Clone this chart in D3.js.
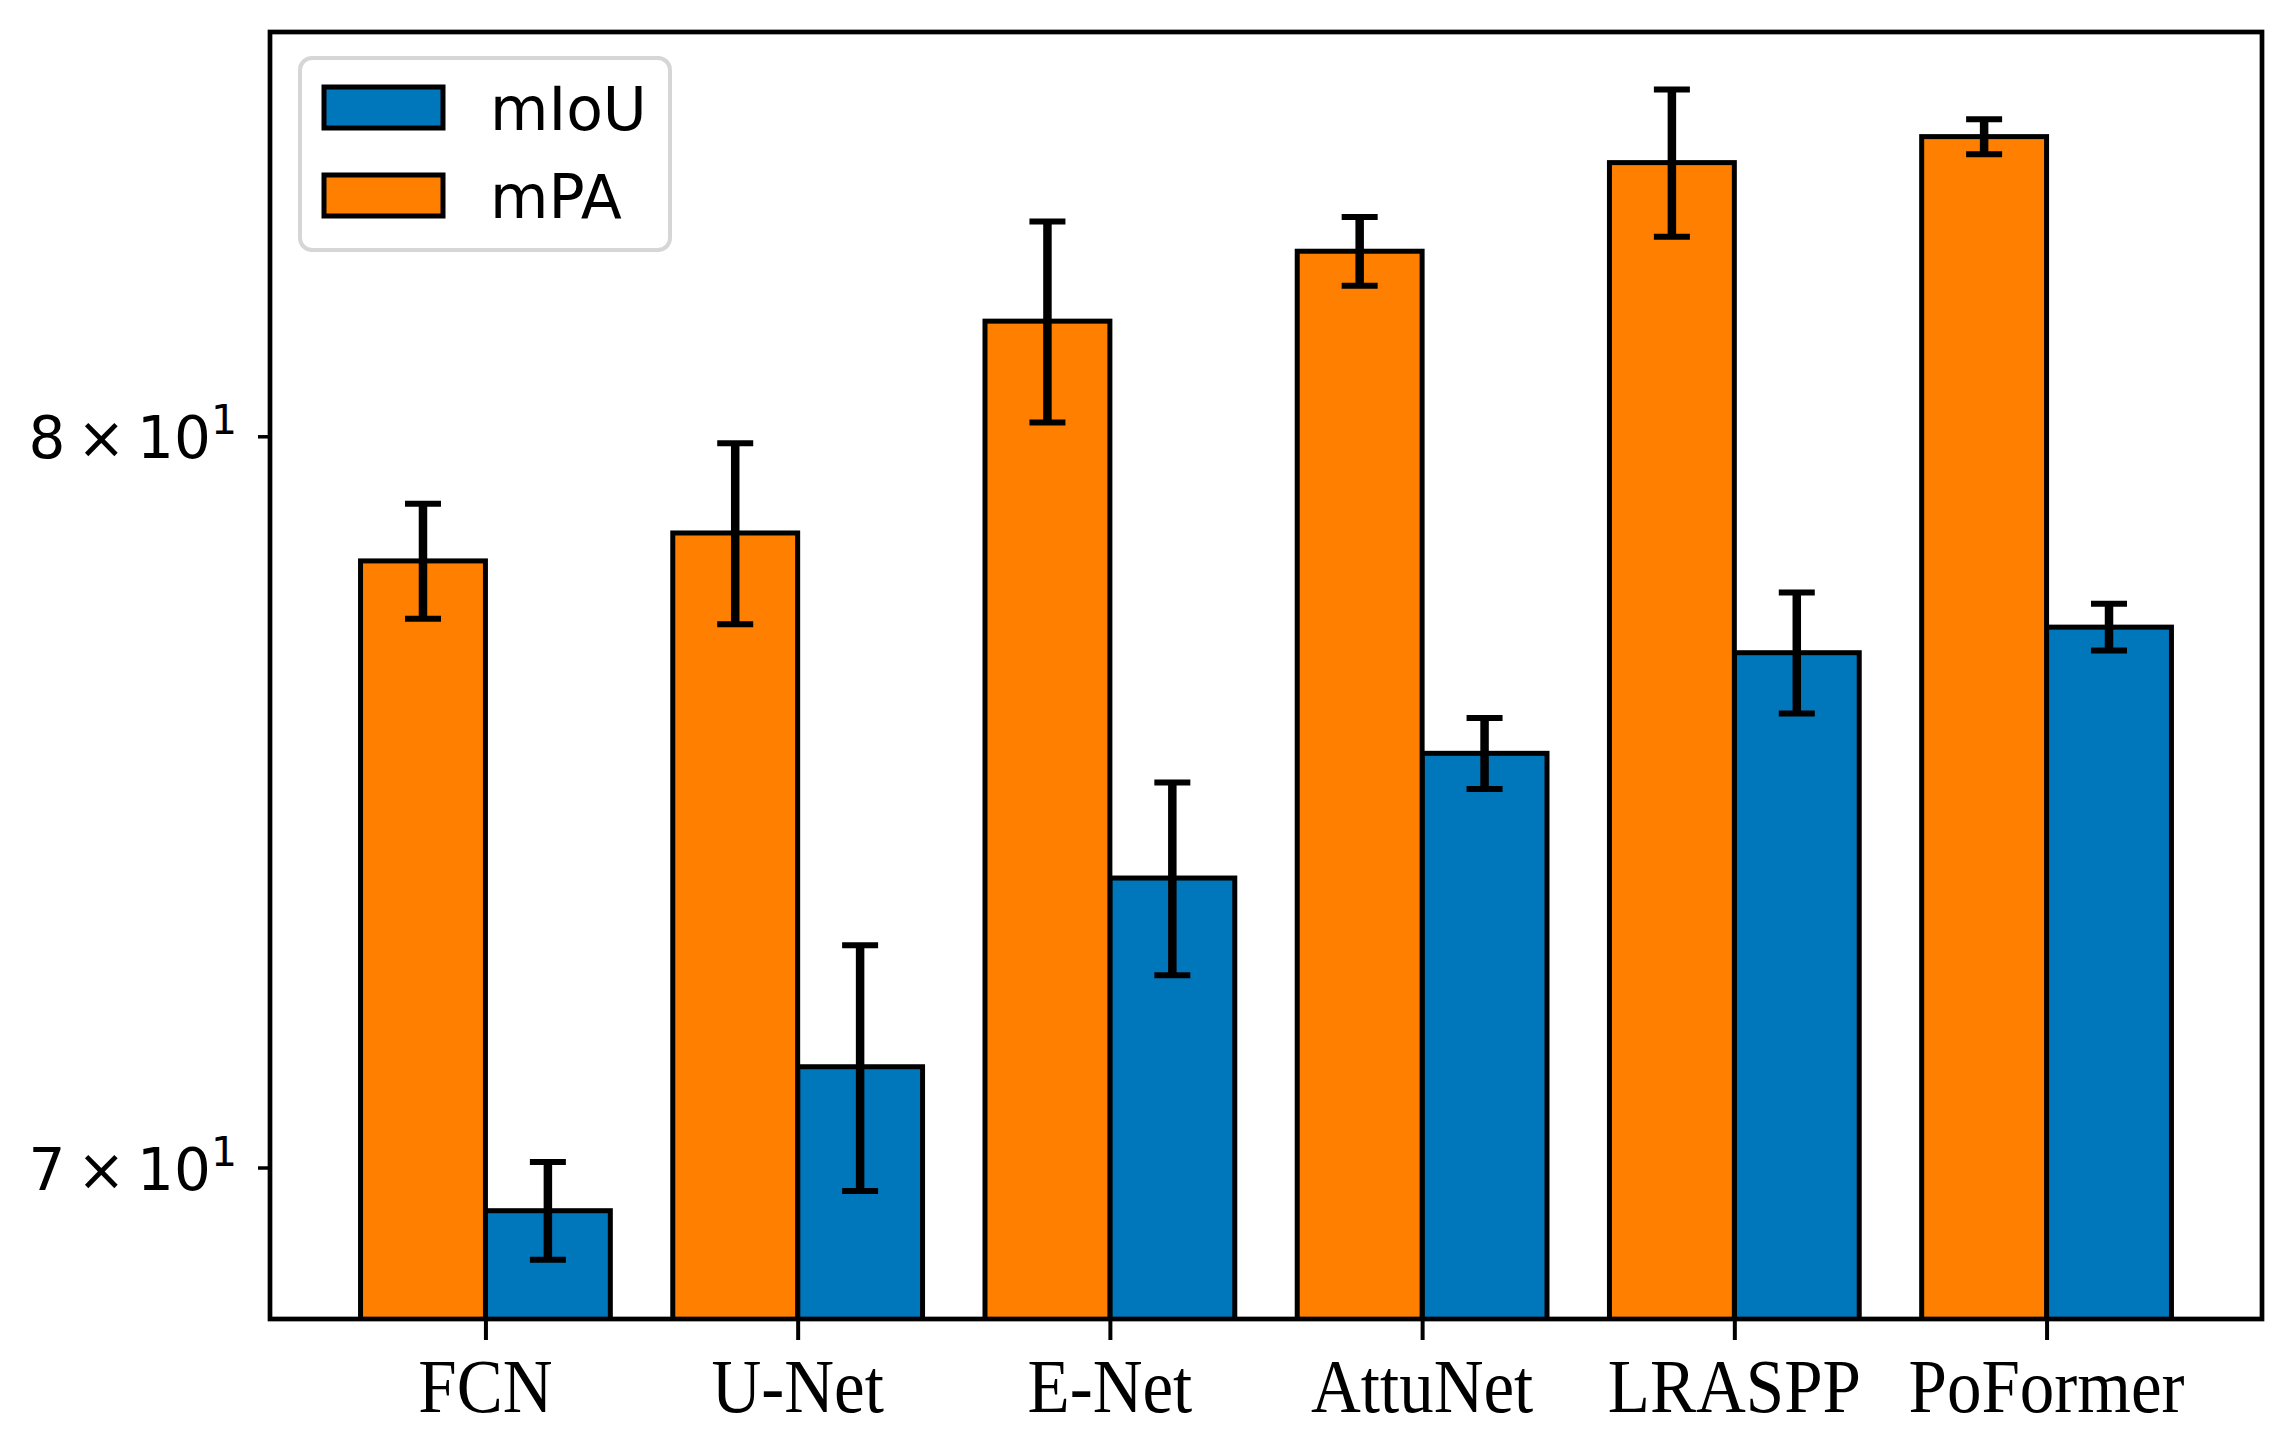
<!DOCTYPE html>
<html>
<head>
<meta charset="utf-8">
<script src="https://cdn.jsdelivr.net/npm/d3@7"></script>
<style>
  body { margin: 0; background: #fff; }
  svg { display: block; }
</style>
</head>
<body>
<div id="chart"></div>
<script>
// values (log y axis)
const models = ["FCN", "U-Net", "E-Net", "AttuNet", "LRASPP", "PoFormer"]
const mPA = [78.2, 78.6, 81.7, 82.75, 84.1, 84.5]
const mPAErr = [0.82, 1.3, 1.5, 0.52, 1.13, 0.27]
const mIoU = [69.45, 71.3, 73.8, 75.5, 76.9, 77.26]
const mIoUErr = [0.62, 1.6, 1.3, 0.49, 0.85, 0.33]
const yTicks = [70, 80]
const yTickMantissa = ["7", "8"]

const W = 2282, H = 1441
const plotL = 270, plotR = 2262, plotT = 32, plotB = 1319
const barW = 0.4
const colors = { mIoU: "#0077bb", mPA: "#ff8000" }

const svg = d3.select("#chart").append("svg")
  .attr("width", W).attr("height", H)
  .style("background", "#fff")

// matplotlib-style 5% margins round the bars
const x = d3.scaleLinear().domain([-0.4 - 0.29, models.length - 1 + 0.4 + 0.29]).range([plotL, plotR])
const y = d3.scaleLog().domain([68.09, 86.13]).range([plotB, plotT])

svg.append("clipPath").attr("id", "plotclip")
  .append("rect").attr("x", plotL).attr("y", plotT).attr("width", plotR - plotL).attr("height", plotB - plotT)

const plot = svg.append("g").attr("clip-path", "url(#plotclip)")

function drawSeries(values, errs, offset, color) {
  const g = plot.append("g")
  g.selectAll("rect")
    .data(values)
    .enter().append("rect")
    .attr("x", (d, i) => x(i + offset - barW / 2))
    .attr("width", x(barW) - x(0))
    .attr("y", d => y(d))
    .attr("height", d => plotB + 10 - y(d))
    .attr("fill", color)
    .attr("stroke", "#000")
    .attr("stroke-width", 5)

  const eb = g.selectAll("g.err")
    .data(values)
    .enter().append("g").attr("class", "err")
  eb.append("line")
    .attr("x1", (d, i) => x(i + offset)).attr("x2", (d, i) => x(i + offset))
    .attr("y1", (d, i) => y(d + errs[i])).attr("y2", (d, i) => y(d - errs[i]))
    .attr("stroke", "#000").attr("stroke-width", 8.5)
  ;[1, -1].forEach(s => {
    eb.append("line")
      .attr("x1", (d, i) => x(i + offset) - 18).attr("x2", (d, i) => x(i + offset) + 18)
      .attr("y1", (d, i) => y(d + s * errs[i])).attr("y2", (d, i) => y(d + s * errs[i]))
      .attr("stroke", "#000").attr("stroke-width", 6)
  })
}

drawSeries(mIoU, mIoUErr, 0.2, colors.mIoU)
drawSeries(mPA, mPAErr, -0.2, colors.mPA)

// x axis
const xAxis = svg.append("g")
  .attr("transform", `translate(0,${plotB})`)
  .call(d3.axisBottom(x).tickValues(d3.range(models.length)).tickSize(21).tickFormat(""))
xAxis.select(".domain").remove()
xAxis.selectAll(".tick line").attr("stroke", "#000").attr("stroke-width", 4)

svg.append("g").selectAll("text")
  .data(models)
  .enter().append("text")
  .attr("transform", (d, i) => `translate(${x(i)},1412) scale(1,1.09)`)
  .attr("text-anchor", "middle")
  .attr("font-family", "'Liberation Serif', 'Times New Roman', serif")
  .attr("font-size", 69)
  .attr("fill", "#000")
  .text(d => d)

// y axis (minor log ticks with mathtext-like labels)
const yAxis = svg.append("g")
  .attr("transform", `translate(${plotL},0)`)
  .call(d3.axisLeft(y).tickValues(yTicks).tickSize(12).tickFormat(""))
yAxis.select(".domain").remove()
yAxis.selectAll(".tick line").attr("stroke", "#000").attr("stroke-width", 3.5)

const yLab = svg.append("g").selectAll("text")
  .data(yTicks)
  .enter().append("text")
  .attr("x", 237)
  .attr("y", d => y(d) + 22)
  .attr("text-anchor", "end")
  .attr("font-family", "'DejaVu Sans', sans-serif")
  .attr("font-size", 58)
  .attr("fill", "#000")
yLab.append("tspan").text((d, i) => yTickMantissa[i] + "\u2009\u00d7\u200910")
yLab.append("tspan").attr("font-size", 41).attr("dy", -24).text("1")

// frame
svg.append("rect")
  .attr("x", plotL).attr("y", plotT).attr("width", plotR - plotL).attr("height", plotB - plotT)
  .attr("fill", "none").attr("stroke", "#000").attr("stroke-width", 4.7)

// legend
const legend = svg.append("g")
legend.append("rect")
  .attr("x", 300).attr("y", 58).attr("width", 370).attr("height", 192)
  .attr("rx", 12).attr("ry", 12)
  .attr("fill", "#fff").attr("fill-opacity", 0.8)
  .attr("stroke", "#d6d6d6").attr("stroke-width", 4)

const legendItems = [
  { name: "mIoU", color: colors.mIoU },
  { name: "mPA", color: colors.mPA }
]
const item = legend.selectAll("g.item")
  .data(legendItems)
  .enter().append("g").attr("class", "item")
  .attr("transform", (d, i) => `translate(0,${i * 88})`)
item.append("rect")
  .attr("x", 324).attr("y", 87).attr("width", 119).attr("height", 41)
  .attr("fill", d => d.color)
  .attr("stroke", "#000").attr("stroke-width", 5)
item.append("text")
  .attr("x", 490).attr("y", 130)
  .attr("font-family", "'DejaVu Sans', sans-serif")
  .attr("font-size", 60)
  .attr("fill", "#000")
  .text(d => d.name)
</script>
</body>
</html>
